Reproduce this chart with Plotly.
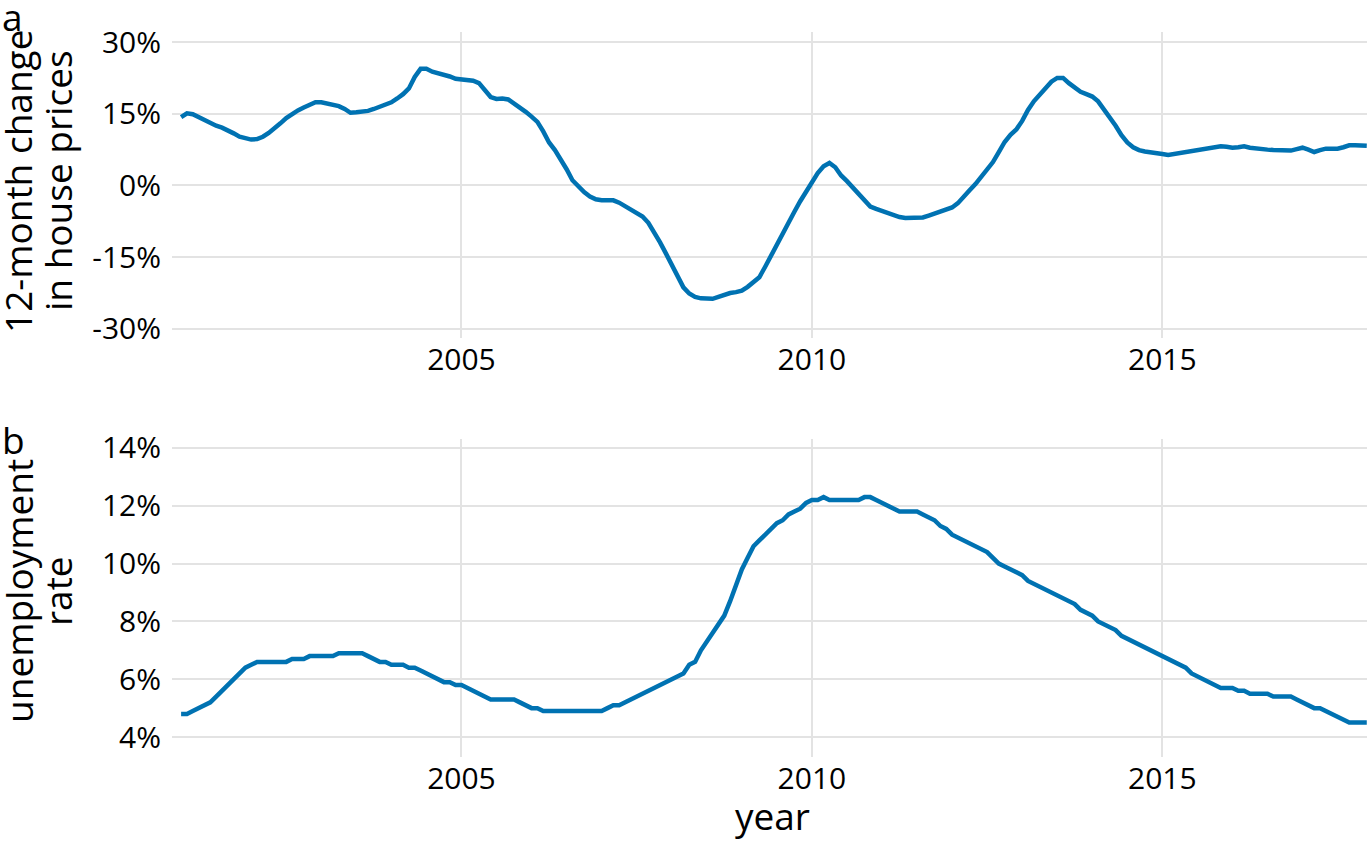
import plotly.graph_objects as go

# ---- data (monthly, Jan 2001 - Dec 2017) ----
years = list(range(2001, 2018))

house_price_change = [
    # 2001
    14.3, 15.1, 14.9, 14.3, 13.6, 13.0, 12.5, 12.1, 11.6, 10.9, 10.2, 9.8,
    # 2002
    9.6, 9.7, 10.2, 11.0, 11.9, 13.0, 14.1, 15.0, 15.7, 16.3, 16.9, 17.4,
    # 2003
    17.4, 17.2, 16.9, 16.6, 16.0, 15.2, 15.3, 15.4, 15.6, 16.0, 16.5, 17.0,
    # 2004
    17.4, 18.2, 19.1, 20.3, 22.7, 24.4, 24.4, 23.8, 23.5, 23.2, 22.8, 22.3,
    # 2005
    22.2, 22.2, 21.9, 21.4, 20.0, 18.5, 18.1, 18.2, 18.0, 17.2, 16.3, 15.4,
    # 2006
    14.4, 13.3, 11.3, 9.0, 7.4, 5.6, 3.4, 1.1, -0.3, -1.4, -2.3, -2.9,
    # 2007
    -3.1, -3.1, -3.1, -3.6, -4.3, -4.9, -5.6, -6.5, -7.8, -9.7, -11.9, -14.2,
    # 2008
    -16.5, -19.2, -21.3, -22.6, -23.3, -23.6, -23.7, -23.7, -23.3, -22.8, -22.5, -22.3,
    # 2009
    -22.0, -21.2, -20.2, -19.2, -17.0, -14.6, -12.3, -10.0, -7.7, -5.5, -3.3, -1.3,
    # 2010
    0.7, 2.6, 4.0, 4.7, 3.8, 2.1, 0.9, -0.4, -1.8, -3.3, -4.4, -4.9,
    # 2011
    -5.3, -5.8, -6.3, -6.6, -6.8, -6.8, -6.8, -6.7, -6.3, -5.9, -5.4, -4.9,
    # 2012
    -4.6, -3.7, -2.5, -1.0, 0.3, 1.9, 3.5, 4.9, 7.0, 9.1, 10.6, 11.7,
    # 2013
    13.5, 15.8, 17.6, 19.0, 20.5, 21.7, 22.5, 22.5, 21.4, 20.4, 19.6, 19.1,
    # 2014
    18.6, 17.6, 16.0, 14.2, 12.5, 10.5, 9.0, 8.0, 7.4, 7.1, 7.0, 6.9,
    # 2015
    6.6, 6.4, 6.6, 6.8, 7.0, 7.2, 7.3, 7.5, 7.7, 7.9, 8.2, 8.1,
    # 2016
    7.9, 8.0, 8.2, 7.9, 7.7, 7.6, 7.5, 7.4, 7.3, 7.3, 7.3, 7.6,
    # 2017
    7.9, 7.5, 7.0, 7.4, 7.7, 7.7, 7.7, 8.0, 8.4, 8.4, 8.3, 8.3,
]

unemployment_rate = [
    # 2001
    4.8, 4.8, 4.9, 5.0, 5.1, 5.2, 5.4, 5.6, 5.8, 6.0, 6.2, 6.4,
    # 2002
    6.5, 6.6, 6.6, 6.6, 6.6, 6.6, 6.6, 6.7, 6.7, 6.7, 6.8, 6.8,
    # 2003
    6.8, 6.8, 6.8, 6.9, 6.9, 6.9, 6.9, 6.9, 6.8, 6.7, 6.6, 6.6,
    # 2004
    6.5, 6.5, 6.5, 6.4, 6.4, 6.3, 6.2, 6.1, 6.0, 5.9, 5.9, 5.8,
    # 2005
    5.8, 5.7, 5.6, 5.5, 5.4, 5.3, 5.3, 5.3, 5.3, 5.3, 5.2, 5.1,
    # 2006
    5.0, 5.0, 4.9, 4.9, 4.9, 4.9, 4.9, 4.9, 4.9, 4.9, 4.9, 4.9,
    # 2007
    4.9, 5.0, 5.1, 5.1, 5.2, 5.3, 5.4, 5.5, 5.6, 5.7, 5.8, 5.9,
    # 2008
    6.0, 6.1, 6.2, 6.5, 6.6, 7.0, 7.3, 7.6, 7.9, 8.2, 8.7, 9.3,
    # 2009
    9.8, 10.2, 10.6, 10.8, 11.0, 11.2, 11.4, 11.5, 11.7, 11.8, 11.9, 12.1,
    # 2010
    12.2, 12.2, 12.3, 12.2, 12.2, 12.2, 12.2, 12.2, 12.2, 12.3, 12.3, 12.2,
    # 2011
    12.1, 12.0, 11.9, 11.8, 11.8, 11.8, 11.8, 11.7, 11.6, 11.5, 11.3, 11.2,
    # 2012
    11.0, 10.9, 10.8, 10.7, 10.6, 10.5, 10.4, 10.2, 10.0, 9.9, 9.8, 9.7,
    # 2013
    9.6, 9.4, 9.3, 9.2, 9.1, 9.0, 8.9, 8.8, 8.7, 8.6, 8.4, 8.3,
    # 2014
    8.2, 8.0, 7.9, 7.8, 7.7, 7.5, 7.4, 7.3, 7.2, 7.1, 7.0, 6.9,
    # 2015
    6.8, 6.7, 6.6, 6.5, 6.4, 6.2, 6.1, 6.0, 5.9, 5.8, 5.7, 5.7,
    # 2016
    5.7, 5.6, 5.6, 5.5, 5.5, 5.5, 5.5, 5.4, 5.4, 5.4, 5.4, 5.3,
    # 2017
    5.2, 5.1, 5.0, 5.0, 4.9, 4.8, 4.7, 4.6, 4.5, 4.5, 4.5, 4.5,
]

x_tick_vals = [2005, 2010, 2015]
x_tick_text = ["2005", "2010", "2015"]
hp_tick_vals = [-30, -15, 0, 15, 30]
hp_tick_text = ["-30%", "-15%", "0%", "15%", "30%"]
ur_tick_vals = [4, 6, 8, 10, 12, 14]
ur_tick_text = ["4%", "6%", "8%", "10%", "12%", "14%"]

# decimal year for each month
time = [y + m / 12 for y in years for m in range(12)]

# ---- layout geometry (pixels) ----
W, H = 1371, 847
L, R = 172, 1367
T_TOP, B_TOP = 32, 338
T_BOT, B_BOT = 439, 757


def px_x(p):
    return (p - L) / (R - L)


def px_y(p):
    return (B_BOT - p) / (B_BOT - T_TOP)


BLUE = "#0072B2"
GRID = "#E3E3E3"
FONT = "Open Sans"
TICK_SIZE = 30
TITLE_SIZE = 37

fig = go.Figure()
fig.add_trace(go.Scatter(x=time, y=house_price_change, mode="lines",
                         line=dict(color=BLUE, width=4.5), xaxis="x", yaxis="y",
                         showlegend=False, hoverinfo="skip"))
fig.add_trace(go.Scatter(x=time, y=unemployment_rate, mode="lines",
                         line=dict(color=BLUE, width=4.5), xaxis="x2", yaxis="y2",
                         showlegend=False, hoverinfo="skip"))

xcommon = dict(range=[2000.87, 2017.92], tickvals=x_tick_vals, ticktext=x_tick_text,
               showgrid=True, gridcolor=GRID, gridwidth=1.8, zeroline=False,
               showline=False, ticks="", ticklabelstandoff=1,
               tickfont=dict(size=TICK_SIZE, color="black", family=FONT))
ycommon = dict(showgrid=True, gridcolor=GRID, gridwidth=1.8, zeroline=False,
               showline=False, ticks="", ticklabelstandoff=10,
               tickfont=dict(size=TICK_SIZE, color="black", family=FONT))

fig.update_layout(
    width=W, height=H,
    margin=dict(l=L, r=W - R, t=T_TOP, b=H - B_BOT),
    paper_bgcolor="white", plot_bgcolor="white",
    font=dict(family=FONT, color="black"),
    xaxis=dict(domain=[0, 1], anchor="y", **xcommon),
    yaxis=dict(domain=[px_y(B_TOP), 1], anchor="x", range=[-31.9, 32.1],
               tickvals=hp_tick_vals, ticktext=hp_tick_text, **ycommon),
    xaxis2=dict(domain=[0, 1], anchor="y2", **xcommon),
    yaxis2=dict(domain=[0, px_y(T_BOT)], anchor="x2", range=[3.31, 14.31],
                tickvals=ur_tick_vals, ticktext=ur_tick_text, **ycommon),
)

ann = []
for text, xp, yp in [("12-month change", 18, 182),
                     ("in house prices", 57, 181),
                     ("unemployment", 18, 591),
                     ("rate", 57, 591)]:
    ann.append(dict(text=text, x=px_x(xp), y=px_y(yp), xref="paper", yref="paper",
                    xanchor="center", yanchor="middle", textangle=-90, showarrow=False,
                    font=dict(size=TITLE_SIZE, family=FONT, color="black")))
for text, yp in [("a", 17), ("b", 440)]:
    ann.append(dict(text=text, x=px_x(0), y=px_y(yp), xref="paper", yref="paper",
                    xanchor="left", yanchor="middle", showarrow=False,
                    font=dict(size=TITLE_SIZE, family=FONT, color="black")))
ann.append(dict(text="year", x=px_x(772), y=px_y(816), xref="paper", yref="paper",
                xanchor="center", yanchor="middle", showarrow=False,
                font=dict(size=TITLE_SIZE, family=FONT, color="black")))
fig.update_layout(annotations=ann)

fig.write_html("out.html")
